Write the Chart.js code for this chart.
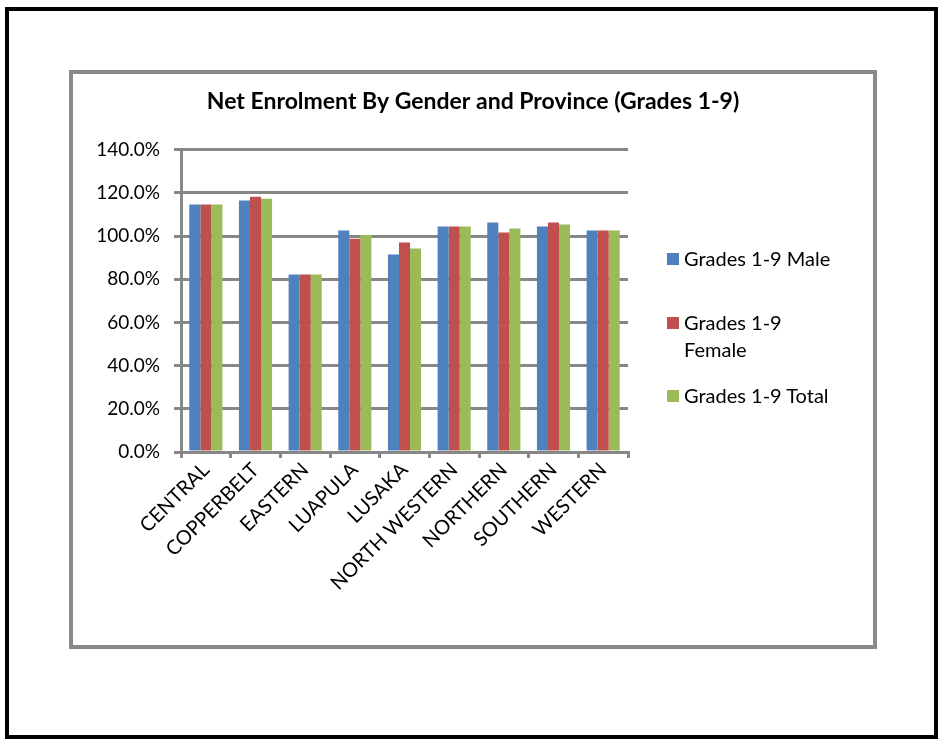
<!DOCTYPE html>
<html>
<head>
<meta charset="utf-8">
<script src="https://cdn.jsdelivr.net/npm/chart.js@4.4.1/dist/chart.umd.min.js"></script>
<style>
  html, body { margin: 0; padding: 0; background: #ffffff; }
  body { width: 941px; height: 739px; position: relative; overflow: hidden; font-family: Lato, "Open Sans", sans-serif; }
  #outer { position: absolute; left: 5px; top: 7px; width: 933px; height: 732px; border: 4px solid #000; box-sizing: border-box; }
  #inner { position: absolute; left: 69px; top: 70px; width: 808px; height: 579px; border: 4px solid #8a8a8a; box-sizing: border-box; }
  #wrap { position: absolute; left: 73px; top: 74px; width: 800px; height: 571px; }
  #legend { position: absolute; left: 667px; top: 0; }
  .item { position: absolute; left: 0; display: flex; align-items: flex-start; white-space: normal; }
  .sw { width: 12px; height: 12px; margin-top: 8px; margin-right: 5px; flex: none; }
  .lt { font-size: 20px; line-height: 27px; color: #000; }
</style>
</head>
<body>
<div id="outer"></div>
<div id="inner"></div>
<div id="wrap"><canvas id="c" width="800" height="571"></canvas></div>
<div id="legend"></div>
<script>
const titleText = 'Net Enrolment By Gender and Province (Grades 1-9)';
const provinces = ['CENTRAL', 'COPPERBELT', 'EASTERN', 'LUAPULA', 'LUSAKA', 'NORTH WESTERN', 'NORTHERN', 'SOUTHERN', 'WESTERN'];
const seriesNames = ['Grades 1-9 Male', 'Grades 1-9 Female', 'Grades 1-9 Total'];
const maleValues   = [114.6, 116.4, 82.2, 102.5, 91.4, 104.4, 106.2, 104.4, 102.5];
const femaleValues = [114.6, 118.2, 82.2, 98.7, 97.0, 104.4, 101.6, 106.2, 102.5];
const totalValues  = [114.6, 117.3, 82.2, 100.5, 94.2, 104.4, 103.5, 105.3, 102.5];
const yTicks = [0, 20, 40, 60, 80, 100, 120, 140];
const seriesColors = ['#4F81BD', '#C0504D', '#9BBB59'];

const FONT = 'Lato, "Open Sans", sans-serif';
const GRID = '#878787';

const seriesValues = [maleValues, femaleValues, totalValues];
const chart = new Chart(document.getElementById('c'), {
  type: 'bar',
  data: {
    labels: provinces,
    datasets: seriesNames.map((n, i) => ({
      label: n,
      data: seriesValues[i],
      backgroundColor: seriesColors[i],
      borderWidth: 0,
      barPercentage: 1.0,
      categoryPercentage: 0.667
    }))
  },
  options: {
    responsive: false,
    animation: false,
    devicePixelRatio: 1,
    layout: { padding: 0 },
    plugins: {
      legend: { display: false },
      tooltip: { enabled: false },
      title: {
        display: true,
        text: titleText,
        color: '#000',
        font: { family: FONT, size: 23, weight: 'bold' },
        padding: { top: 14, bottom: 34 }
      }
    },
    scales: {
      x: {
        grid: { display: true, drawOnChartArea: false, drawTicks: true, tickLength: 6, color: GRID, lineWidth: 3, offset: true },
        border: { display: true, color: GRID, width: 3 },
        ticks: { autoSkip: false, maxRotation: 45, minRotation: 45, color: '#000', font: { family: FONT, size: 20 }, padding: 0 },
        afterFit: s => { s.height = 193; }
      },
      y: {
        min: 0, max: 140,
        afterBuildTicks: s => { s.ticks = yTicks.map(v => ({ value: v })); },
        grid: { color: GRID, lineWidth: 3, tickLength: 7, drawTicks: true },
        border: { display: true, color: GRID, width: 3 },
        ticks: { color: '#000', font: { family: FONT, size: 19 }, padding: 14, callback: v => v.toFixed(1) + '%' },
        afterFit: s => { s.width = 108; }
      },
      legendSpace: {
        type: 'linear',
        position: 'right',
        display: true,
        grid: { display: false, drawOnChartArea: false, drawTicks: false },
        border: { display: false },
        ticks: { display: false },
        afterFit: s => { s.width = 245; }
      }
    }
  }
});

// HTML legend
const legend = document.getElementById('legend');
const meas = document.createElement('canvas').getContext('2d');
meas.font = '20px ' + FONT;
const maxW = Math.max(meas.measureText(seriesNames[0]).width, meas.measureText(seriesNames[2]).width) + 4;
const itemTops = [245, 309, 382];
seriesNames.forEach((n, i) => {
  const it = document.createElement('div');
  it.className = 'item';
  it.style.top = itemTops[i] + 'px';
  const sw = document.createElement('span');
  sw.className = 'sw';
  sw.style.background = seriesColors[i];
  const t = document.createElement('span');
  t.className = 'lt';
  t.style.width = Math.ceil(maxW) + 'px';
  t.textContent = n;
  it.appendChild(sw); it.appendChild(t);
  legend.appendChild(it);
});
</script>
</body>
</html>
